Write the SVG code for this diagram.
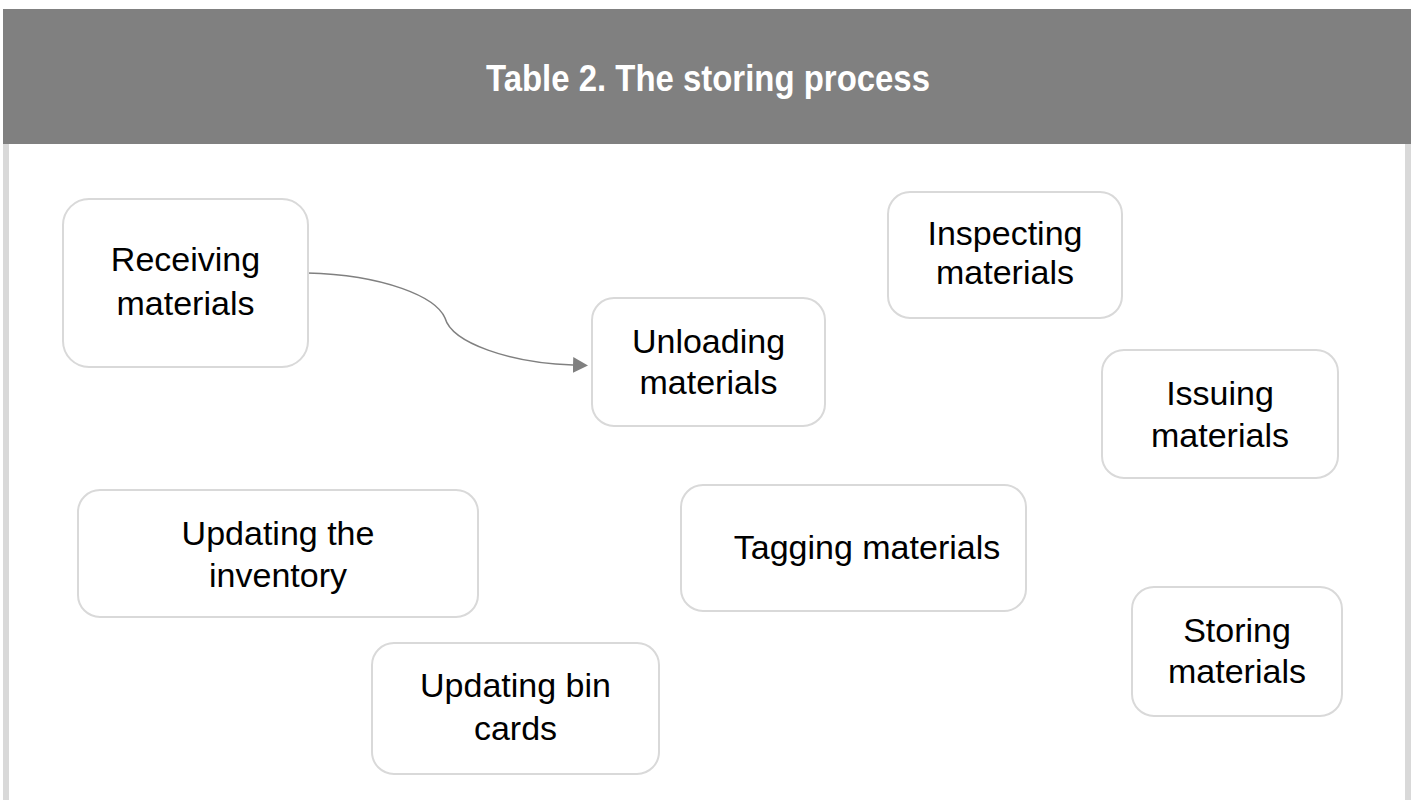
<svg xmlns="http://www.w3.org/2000/svg" width="1414" height="800" viewBox="0 0 1414 800">
  <style>
    .title { font-family: "Liberation Sans", Arial, sans-serif; font-weight: bold; font-size: 37px; fill: #ffffff; text-anchor: middle; }
    .box { fill: #ffffff; stroke: #d9d9d9; stroke-width: 2; }
    .label { font-family: "Liberation Sans", Arial, sans-serif; font-size: 34px; fill: #000000; text-anchor: middle; }
    .edge { fill: none; stroke: #808080; stroke-width: 1.5; }
  </style>
  <defs>
    <marker id="arrow" viewBox="0 0 15 16" refX="0" refY="8" markerWidth="15" markerHeight="16" markerUnits="userSpaceOnUse" orient="auto">
      <path d="M0,0 L15,8 L0,16 Z" fill="#808080"/>
    </marker>
  </defs>

  <!-- page frame -->
  <rect x="0" y="0" width="1414" height="800" fill="#ffffff"/>
  <rect x="3" y="144" width="6" height="656" fill="#d9d9d9"/>
  <rect x="1405" y="144" width="6" height="656" fill="#d9d9d9"/>
  <rect x="3" y="9" width="1408" height="135" fill="#808080"/>
  <text class="title" x="708" y="91" textLength="444" lengthAdjust="spacingAndGlyphs">Table 2. The storing process</text>

  <!-- connectors -->
  <g id="connectors">
    <path class="edge" d="M307,273 C385,275 436,297 445,318 C452,343 510,363 573,365" marker-end="url(#arrow)"/>
  </g>

  <!-- nodes -->
  <g id="receiving">
    <rect class="box" x="63" y="199" width="245" height="168" rx="26"/>
    <text class="label" x="185.5" y="271">Receiving</text>
    <text class="label" x="185.5" y="315">materials</text>
  </g>
  <g id="unloading">
    <rect class="box" x="592" y="298" width="233" height="128" rx="22"/>
    <text class="label" x="708.5" y="353">Unloading</text>
    <text class="label" x="708.5" y="394">materials</text>
  </g>
  <g id="inspecting">
    <rect class="box" x="888" y="192" width="234" height="126" rx="22"/>
    <text class="label" x="1005" y="245">Inspecting</text>
    <text class="label" x="1005" y="284">materials</text>
  </g>
  <g id="issuing">
    <rect class="box" x="1102" y="350" width="236" height="128" rx="22"/>
    <text class="label" x="1220" y="405">Issuing</text>
    <text class="label" x="1220" y="447">materials</text>
  </g>
  <g id="tagging">
    <rect class="box" x="681" y="485" width="345" height="126" rx="22"/>
    <text class="label" x="867" y="559">Tagging materials</text>
  </g>
  <g id="updating-inventory">
    <rect class="box" x="78" y="490" width="400" height="127" rx="22"/>
    <text class="label" x="278" y="545">Updating the</text>
    <text class="label" x="278" y="587">inventory</text>
  </g>
  <g id="storing">
    <rect class="box" x="1132" y="587" width="210" height="129" rx="22"/>
    <text class="label" x="1237" y="642">Storing</text>
    <text class="label" x="1237" y="683">materials</text>
  </g>
  <g id="updating-bin-cards">
    <rect class="box" x="372" y="643" width="287" height="131" rx="22"/>
    <text class="label" x="515.5" y="697">Updating bin</text>
    <text class="label" x="515.5" y="740">cards</text>
  </g>
</svg>
